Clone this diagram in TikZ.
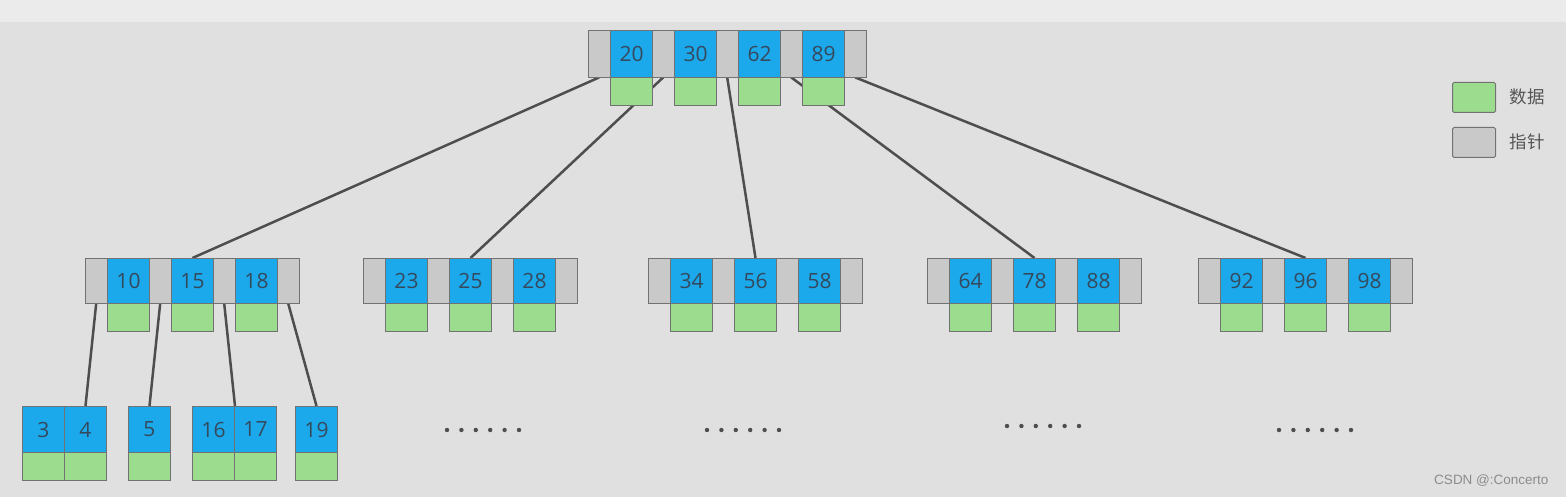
\documentclass[tikz,border=0pt]{standalone}
\usepackage{fontspec}
\setmainfont{Open Sans}
\newfontfamily\cjk{Noto Sans CJK SC}
\newfontfamily\wmfont{Liberation Sans}
\definecolor{bgc}{HTML}{E0E0E0}
\definecolor{topc}{HTML}{EBEBEB}
\definecolor{keyc}{HTML}{1CA9EC}
\definecolor{datac}{HTML}{9BDC8E}
\definecolor{ptrc}{HTML}{C9C9C9}
\definecolor{edgec}{HTML}{727272}
\definecolor{linec}{HTML}{4E4E4E}
\definecolor{numc}{HTML}{34495C}
\definecolor{legc}{HTML}{555555}
\definecolor{wmc}{HTML}{8C8C8C}
\pgfdeclarelayer{back}
\pgfdeclarelayer{lines}
\pgfsetlayers{back,lines,main}
\tikzset{
  cell/.style={draw=edgec, line width=1pt, inner sep=0pt, minimum width=42, anchor=north west},
  keycell/.style={cell, fill=keyc, text=numc, font=\fontsize{21}{21}\selectfont},
  datacell/.style={cell, fill=datac, minimum height=28},
  ptrcell/.style={inner sep=0pt, minimum width=22, anchor=north west},
  frame/.style={draw=edgec, fill=ptrc, line width=1pt, inner sep=0pt, anchor=north west},
  link/.style={draw=linec, line width=2.5pt},
  dotmark/.style={fill=linec, circle, inner sep=0pt, minimum size=4.4},
  legbox/.style={draw=edgec, line width=1pt, rounded corners=1.5, inner sep=0pt, minimum width=43, minimum height=30, anchor=north west},
  legtext/.style={anchor=west, text=legc, font=\cjk\fontsize{17.5}{17.5}\selectfont},
}
% #1 name, #2 x, #3 y, #4 height, #5 number of keys, #6 keys
\newcommand\bnode[6]{%
  \node[frame, minimum width={22+64*#5}, minimum height=#4] (#1) at (#2,#3) {};
  \foreach \k [count=\i from 0] in {#6} {
    \node[ptrcell, minimum height=#4] (#1p\i) at ({#2+64*\i},#3) {};
    \node[keycell, minimum height=#4] (#1k\i) at ({#2+22+64*\i},#3) {\k};
    \node[datacell] (#1d\i) at ({#2+22+64*\i},{#3+#4}) {};
  }
  \node[ptrcell, minimum height=#4] (#1p#5) at ({#2+64*#5},#3) {};
}
\begin{document}
\begin{tikzpicture}[x=1pt,y=-1pt]
\begin{pgfonlayer}{back}
  \fill[bgc] (0,0) rectangle (1566,497);
  \fill[topc] (0,0) rectangle (1566,22);
\end{pgfonlayer}
\useasboundingbox (0,0) rectangle (1566,497);

% root
\bnode{r}{588}{30}{47}{4}{20,30,62,89}
% second level
\bnode{a}{85}{258}{45}{3}{10,15,18}
\bnode{b}{363}{258}{45}{3}{23,25,28}
\bnode{c}{648}{258}{45}{3}{34,56,58}
\bnode{d}{927}{258}{45}{3}{64,78,88}
\bnode{e}{1198}{258}{45}{3}{92,96,98}

% leaves
\foreach \n/\x in {3/22,4/64,5/128,16/192,17/234,19/295} {
  \node[keycell, minimum height=46] (l\n) at (\x,406) {\n};
  \node[datacell] (ld\n) at (\x,452) {};
}

% connectors
\begin{pgfonlayer}{lines}
  \draw[link] (rp0.south) -- (ak1.north);
  \draw[link] (rp1.south) -- (bk1.north);
  \draw[link] (rp2.south) -- (ck1.north);
  \draw[link] (rp3.south) -- (dk1.north);
  \draw[link] (rp4.south) -- (ek1.north);
  \draw[link] (ap0.south) -- (l4.north);
  \draw[link] (ap1.south) -- (l5.north);
  \draw[link] (ap2.south) -- (l16.north east);
  \draw[link] (ap3.south) -- (l19.north);
\end{pgfonlayer}

% ellipses
\foreach \g/\x/\y in {1/447/430, 2/707/430, 3/1007/426, 4/1279/430} {
  \foreach \j in {0,...,5} {
    \node[dotmark] (dot\g-\j) at ({\x+14.4*\j},\y) {};
  }
}

% legend
\node[legbox, fill=datac] (legdata) at (1452,82) {};
\node[legtext] (legdatat) at (1506,97) {数据};
\node[legbox, fill=ptrc] (legptr) at (1452,127) {};
\node[legtext] (legptrt) at (1506,142) {指针};

% watermark
\node[anchor=east, text=wmc, font=\wmfont\fontsize{13.5}{13.5}\selectfont] (wm) at (1552,481) {CSDN @:Concerto};
\end{tikzpicture}
\end{document}
